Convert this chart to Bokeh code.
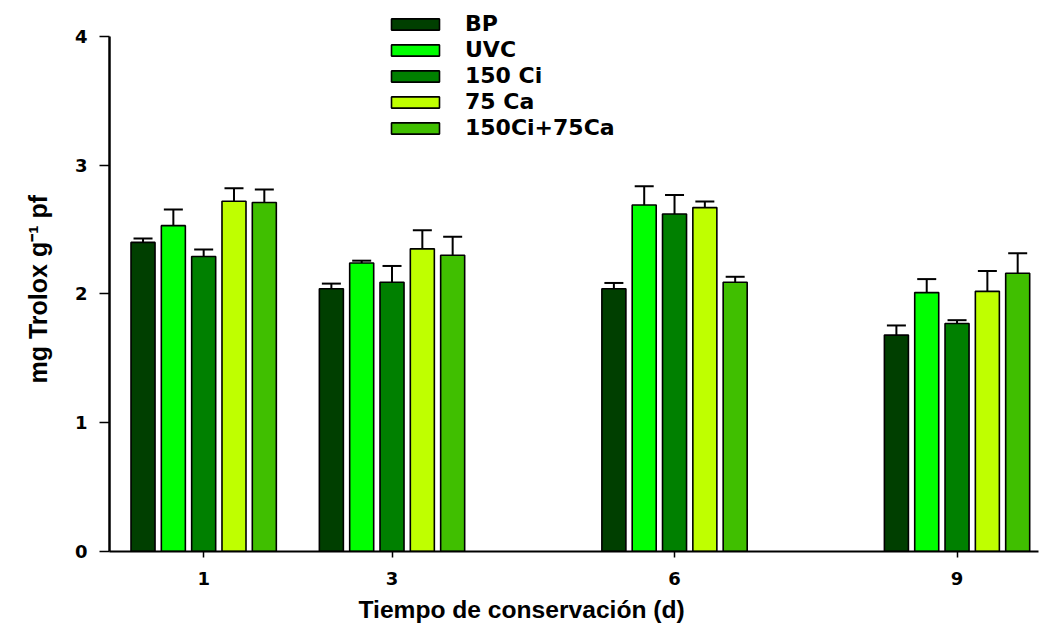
from bokeh.plotting import figure
from bokeh.models import (Range1d, FixedTicker, Whisker, TeeHead, Title,
                          ColumnDataSource, Legend, LegendItem)
from bokeh.embed import file_html
from bokeh.resources import INLINE

# ---- data ----
days = [1, 3, 6, 9]
series = ["BP", "UVC", "150 Ci", "75 Ca", "150Ci+75Ca"]
colors = ["#003f00", "#00ff00", "#008000", "#bfff00", "#40bf00"]
bp = [2.40, 2.04, 2.04, 1.68]
uvc = [2.53, 2.24, 2.69, 2.01]
ci150 = [2.29, 2.09, 2.62, 1.77]
ca75 = [2.72, 2.35, 2.67, 2.02]
mix = [2.71, 2.30, 2.09, 2.16]
bp_err = [0.03, 0.04, 0.045, 0.075]
uvc_err = [0.125, 0.018, 0.145, 0.105]
ci150_err = [0.055, 0.127, 0.148, 0.026]
ca75_err = [0.10, 0.144, 0.047, 0.158]
mix_err = [0.10, 0.144, 0.043, 0.155]
y_ticks = [0, 1, 2, 3, 4]
x_title = "Tiempo de conservación (d)"
y_title = "mg Trolox g\u207b\u00b9 pf"

values = [bp, uvc, ci150, ca75, mix]
errors = [bp_err, uvc_err, ci150_err, ca75_err, mix_err]
offsets = [-0.644, -0.322, 0.0, 0.322, 0.644]
bar_width = 0.255

p = figure(width=1039, height=636, output_backend="svg", toolbar_location=None,
           x_range=Range1d(0, 9.865), y_range=Range1d(0, 4.216),
           min_border_left=109, min_border_right=1, min_border_top=8,
           min_border_bottom=85)
p.grid.visible = False
p.outline_line_color = None
p.background_fill_color = "white"

items = []
for name, col, vals, errs, off in zip(series, colors, values, errors, offsets):
    src = ColumnDataSource(dict(x=[d + off for d in days], top=vals,
                                up=[v + e for v, e in zip(vals, errs)]))
    r = p.vbar(x="x", top="top", bottom=0, width=bar_width, source=src,
               fill_color=col, line_color="black", line_width=1.6)
    items.append(LegendItem(label=name, renderers=[r]))
    w = Whisker(base="x", lower="top", upper="up", source=src,
                line_color="black", line_width=2,
                upper_head=TeeHead(size=19, line_color="black", line_width=2),
                lower_head=None)
    p.add_layout(w)

legend = Legend(items=items, location=(276, 411),
                glyph_width=60, glyph_height=14, label_height=14,
                label_standoff=20, spacing=1, padding=0, margin=0,
                border_line_color=None, background_fill_alpha=0,
                label_text_font="DejaVu Sans", label_text_font_style="bold",
                label_text_font_size="22px", label_text_color="black")
p.add_layout(legend)

# axes
xa = p.xaxis[0]
xa.ticker = FixedTicker(ticks=days)
xa.minor_tick_line_color = None
xa.major_tick_in = 0
xa.major_tick_out = 6
xa.major_tick_line_width = 1.5
xa.major_tick_line_color = "black"
xa.axis_line_width = 2
xa.axis_line_color = "black"
xa.major_label_text_font = "DejaVu Sans"
xa.major_label_text_font_style = "bold"
xa.major_label_text_font_size = "18px"
xa.major_label_text_color = "black"
xa.major_label_standoff = 14

ya = p.yaxis[0]
ya.ticker = FixedTicker(ticks=y_ticks)
ya.bounds = (0, 4)
ya.minor_tick_line_color = None
ya.major_tick_in = 0
ya.major_tick_out = 10
ya.major_tick_line_width = 1.5
ya.major_tick_line_color = "black"
ya.axis_line_width = 2.5
ya.axis_line_color = "black"
ya.major_label_text_font = "DejaVu Sans"
ya.major_label_text_font_style = "bold"
ya.major_label_text_font_size = "18px"
ya.major_label_text_color = "black"
ya.major_label_standoff = 12

ytl = Title(text=y_title, align="left", offset=168, standoff=40,
            text_font="Liberation Sans", text_font_style="bold",
            text_font_size="25px", text_color="black")
p.add_layout(ytl, "left")

ttl = Title(text=x_title, align="left", offset=249, standoff=12,
            text_font="Liberation Sans", text_font_style="bold",
            text_font_size="24.6px", text_color="black")
p.add_layout(ttl, "below")

open("out.html", "w").write(file_html(p, INLINE))
